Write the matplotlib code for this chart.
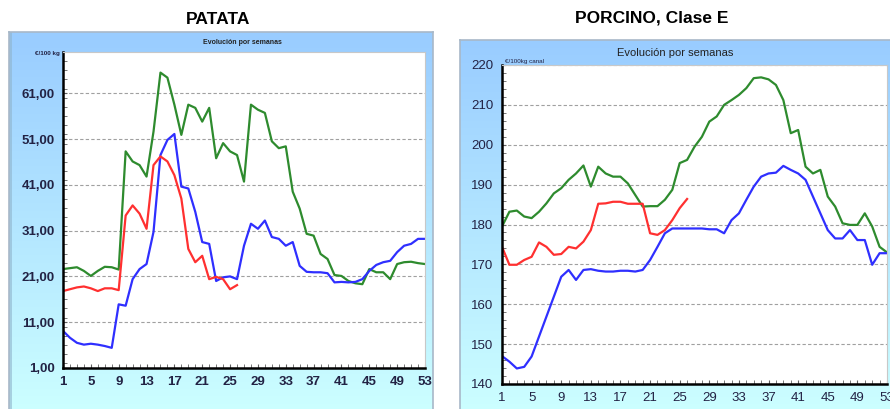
import numpy as np
import matplotlib.pyplot as plt
from matplotlib.ticker import MultipleLocator, FixedLocator

plt.rcParams['font.family'] = ['Liberation Sans', 'DejaVu Sans']

weeks = np.arange(1, 54)

# PATATA (€/100 kg)
patata_green = [22.6, 22.8, 23.0, 22.2, 21.1, 22.2, 23.1, 23.0, 22.5, 48.3,
                46.1, 45.3, 42.8, 52.6, 65.5, 64.4, 58.5, 51.9, 58.5, 57.8,
                54.8, 57.8, 46.8, 50.1, 48.3, 47.5, 41.7, 58.5, 57.4, 56.7,
                50.5, 49.0, 49.4, 39.5, 35.8, 30.3, 29.9, 25.9, 24.8, 21.3,
                21.1, 20.0, 19.5, 19.3, 22.6, 21.9, 21.9, 20.4, 23.7, 24.1,
                24.2, 23.9, 23.7]
patata_blue = [9.1, 7.6, 6.5, 6.1, 6.3, 6.1, 5.8, 5.4, 14.9, 14.6,
               20.4, 22.6, 23.7, 30.7, 47.5, 50.8, 52.1, 40.6, 40.2, 35.1,
               28.5, 28.1, 20.0, 20.8, 21.0, 20.4, 27.7, 32.5, 31.4, 33.2,
               29.6, 29.2, 27.7, 28.5, 23.3, 22.0, 21.9, 21.9, 21.7, 19.7,
               19.8, 19.7, 19.8, 20.4, 22.2, 23.5, 24.1, 24.4, 26.3, 27.7,
               28.1, 29.2, 29.2]
patata_red = [17.8, 18.2, 18.6, 18.8, 18.4, 17.8, 18.4, 18.4, 18.0, 34.3,
              36.5, 34.7, 31.4, 45.3, 47.2, 46.1, 43.1, 38.0, 27.0, 24.1,
              25.5, 20.4, 20.9, 20.4, 18.2, 19.1]

# PORCINO, Clase E (€/100 kg canal)
porcino_green = [179.5, 183.2, 183.5, 182.0, 181.6, 183.2, 185.3, 187.8, 189.1, 191.2,
                 192.8, 194.8, 189.5, 194.5, 192.8, 192.0, 192.0, 190.3, 187.4, 184.5,
                 184.6, 184.6, 186.2, 188.7, 195.4, 196.2, 199.5, 202.0, 205.8, 207.1,
                 210.0, 211.2, 212.5, 214.2, 216.7, 216.9, 216.4, 215.0, 211.2, 202.9,
                 203.7, 194.5, 192.8, 193.7, 187.0, 184.5, 180.3, 179.9, 179.9, 182.8,
                 179.5, 174.4, 173.0]
porcino_blue = [147.0, 145.6, 143.9, 144.3, 146.9, 151.9, 156.9, 161.9, 166.9, 168.6,
                166.1, 168.6, 168.8, 168.4, 168.2, 168.2, 168.4, 168.4, 168.2, 168.6,
                171.1, 174.4, 177.8, 179.0, 179.0, 179.0, 179.0, 179.0, 178.8, 178.8,
                177.8, 181.1, 182.8, 186.2, 189.5, 192.0, 192.8, 193.0, 194.7, 193.7,
                192.8, 191.2, 187.0, 182.8, 178.6, 176.5, 176.5, 178.6, 176.1, 176.1,
                169.9, 172.8, 172.8]
porcino_red = [174.4, 169.9, 169.9, 171.1, 171.9, 175.5, 174.4, 172.4, 172.6, 174.4,
               174.0, 175.7, 178.6, 185.2, 185.3, 185.7, 185.7, 185.2, 185.2, 185.2,
               177.8, 177.4, 178.6, 181.1, 184.1, 186.4]

W, H = 890, 409
fig = plt.figure(figsize=(W / 100, H / 100), dpi=100)

grad = np.linspace(0, 1, 256).reshape(-1, 1)
top_c = np.array([0x99, 0xCC, 0xFF]) / 255
bot_c = np.array([0xCC, 0xFF, 0xFF]) / 255
grad_img = top_c * (1 - grad[..., None]) + bot_c * grad[..., None]
grad_img = np.repeat(grad_img, 2, axis=1)


def px_box(x0, y0, x1, y1):
    return [x0 / W, 1 - y1 / H, (x1 - x0) / W, (y1 - y0) / H]


def panel(box, strip=False):
    bg = fig.add_axes(px_box(*box), zorder=0)
    bg.imshow(grad_img, aspect='auto', extent=[0, 1, 0, 1])
    if strip:
        # darker band along the left edge of the panel
        bg.axvspan(0, 3 / (box[2] - box[0]), color='#8fb4cc', alpha=0.6, lw=0)
    bg.set_xlim(0, 1)
    bg.set_ylim(0, 1)
    bg.set_xticks([])
    bg.set_yticks([])
    for s in bg.spines.values():
        s.set_color('#a8b8c8')
        s.set_linewidth(1.2)
    return bg


def chart(box, ylim, yticks, labels, series, bold):
    ax = fig.add_axes(px_box(*box), zorder=2)
    ax.set_facecolor('white')
    for vals, col in series:
        ax.plot(weeks[:len(vals)], vals, color=col, lw=1.6, solid_joinstyle='round')
    ax.set_xlim(1, 53)
    ax.set_ylim(*ylim)
    ax.xaxis.set_major_locator(FixedLocator(range(1, 54, 4)))
    ax.xaxis.set_minor_locator(MultipleLocator(1))
    ax.set_yticks(yticks)
    ax.set_yticklabels(labels)
    ax.yaxis.set_minor_locator(MultipleLocator(2))
    ax.grid(axis='y', color='#a0a0a0', linestyle=(0, (3, 2)), lw=0.8)
    ax.tick_params(which='both', direction='in', length=3, color='#606060',
                   labelsize=9.5, labelcolor='#222244', pad=6)
    for lab in ax.get_xticklabels() + ax.get_yticklabels():
        lab.set_fontweight('bold' if bold else 'normal')
    ax.spines['left'].set_linewidth(1.8)
    ax.spines['bottom'].set_linewidth(1.8)
    ax.spines['top'].set_color('#c8c8c8')
    ax.spines['right'].set_color('#c8c8c8')
    return ax


# left: PATATA
panel((9, 32, 433, 412), strip=True)
pat_ticks = np.arange(1, 62, 10)
ax1 = chart((63, 52, 425, 368), (1, 70), pat_ticks,
            [f"{v:.2f}".replace('.', ',') for v in pat_ticks],
            [(patata_green, '#2e8b2e'), (patata_blue, '#2f2fff'), (patata_red, '#ff3030')],
            True)
fig.text(218 / W, 1 - 20 / H, 'PATATA', ha='center', va='center',
         fontsize=12.5, fontweight='bold')
fig.text(242 / W, 1 - 42 / H, 'Evolución por semanas', ha='center', va='center',
         fontsize=5, fontweight='bold', color='#222222', zorder=3)
fig.text(60 / W, 1 - 54 / H, '€/100 kg', ha='right', va='center',
         fontsize=4.5, fontweight='bold', color='#222244', zorder=3)

# right: PORCINO
panel((460, 40, 893, 412))
por_ticks = np.arange(140, 221, 10)
ax2 = chart((502, 65, 887, 384), (140, 220), por_ticks,
            [f"{v:.0f}" for v in por_ticks],
            [(porcino_green, '#2e8b2e'), (porcino_blue, '#2f2fff'), (porcino_red, '#ff3030')],
            False)
fig.text(652 / W, 1 - 18 / H, 'PORCINO, Clase E', ha='center', va='center',
         fontsize=12.5, fontweight='bold')
fig.text(675 / W, 1 - 53 / H, 'Evolución por semanas', ha='center', va='center',
         fontsize=8, color='#222222', zorder=3)
fig.text(505 / W, 1 - 62 / H, '€/100kg canal', ha='left', va='center',
         fontsize=4.5, color='#222244', zorder=3)

fig.savefig('out.png', dpi=100)
